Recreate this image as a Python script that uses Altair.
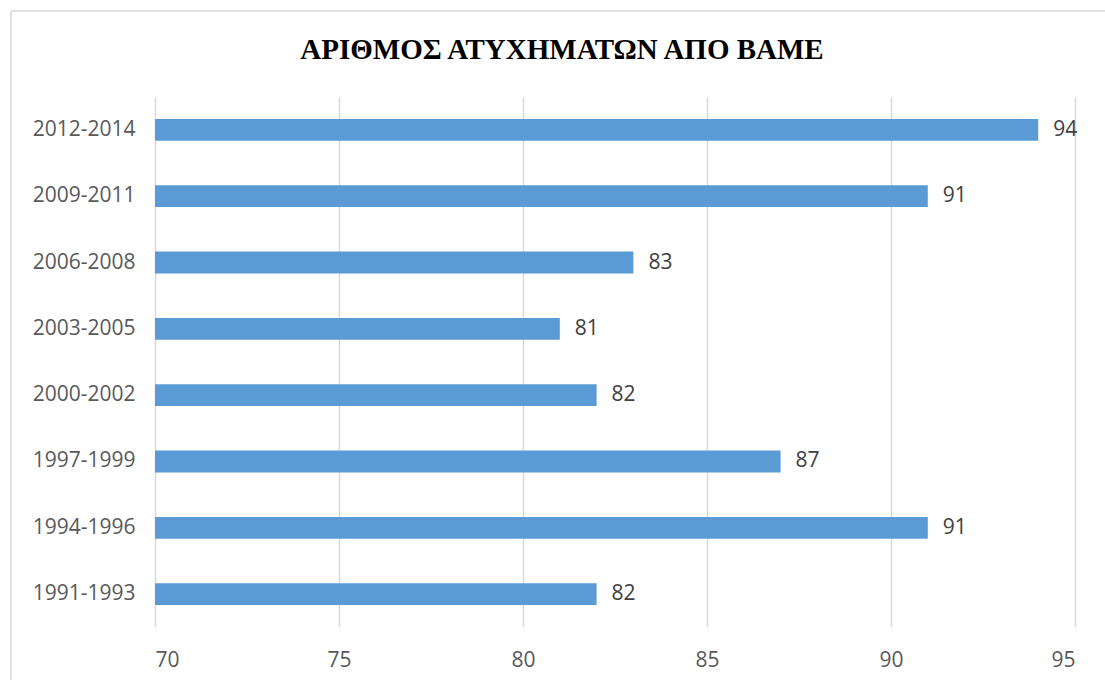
import altair as alt
import pandas as pd

periods = ["2012-2014", "2009-2011", "2006-2008", "2003-2005",
           "2000-2002", "1997-1999", "1994-1996", "1991-1993"]
values = [94, 91, 83, 81, 82, 87, 91, 82]
x_ticks = [70, 75, 80, 85, 90, 95]
title_text = "ΑΡΙΘΜΟΣ ΑΤΥΧΗΜΑΤΩΝ ΑΠΟ ΒΑΜΕ"

df = pd.DataFrame({"period": periods, "value": values})
one = pd.DataFrame({"t": [title_text]})

label_font = "Open Sans"
x_scale = alt.Scale(domain=[70, 95], zero=False, nice=False)
x_axis = alt.Axis(values=x_ticks, labelFont=label_font, labelFontSize=21,
                  labelColor="#595959", labelPadding=22, ticks=False, domain=False,
                  grid=True, gridColor="#d9d9d9", gridWidth=1.5)
y_scale = alt.Scale(paddingInner=0.67, paddingOuter=0.33)
y_axis = alt.Axis(labelFont=label_font, labelFontSize=21, labelColor="#595959",
                  labelPadding=20, ticks=False, domain=False, grid=False)

border_left = alt.Chart(one).mark_rule(stroke="#d9d9d9", strokeWidth=1.5).encode(
    x=alt.value(-144), y=alt.value(-86), y2=alt.value(700)
)
border_top = alt.Chart(one).mark_rule(stroke="#d9d9d9", strokeWidth=1.5).encode(
    x=alt.value(-144), x2=alt.value(960), y=alt.value(-86)
)

title = alt.Chart(one).mark_text(
    font="Liberation Serif", fontSize=29, fontWeight="bold", color="#000000",
    align="center", baseline="alphabetic"
).encode(x=alt.value(407), y=alt.value(-38), text="t:N")

bars = alt.Chart(df).mark_bar(color="#5B9BD5").encode(
    x=alt.X("value:Q", scale=x_scale, title=None, axis=x_axis),
    x2=alt.datum(70),
    y=alt.Y("period:N", sort=periods, title=None, scale=y_scale, axis=y_axis),
)

text = alt.Chart(df).mark_text(align="left", baseline="middle", dx=15,
                               font=label_font, fontSize=21, color="#404040").encode(
    x=alt.X("value:Q", scale=x_scale, title=None, axis=x_axis),
    y=alt.Y("period:N", sort=periods, title=None, scale=y_scale, axis=y_axis),
    text="value:Q",
)

chart = alt.layer(border_left, border_top, title, bars, text).properties(
    width=920, height=530,
    padding={"left": 155, "top": 97, "right": 30, "bottom": 53},
    autosize=alt.AutoSizeParams(type="none"),
    view=alt.ViewBackground(stroke="transparent", strokeWidth=0),
).configure_view(strokeWidth=0, stroke="transparent").configure(background="white")

chart.save("out.html", embed_options={"renderer": "svg", "actions": False})
